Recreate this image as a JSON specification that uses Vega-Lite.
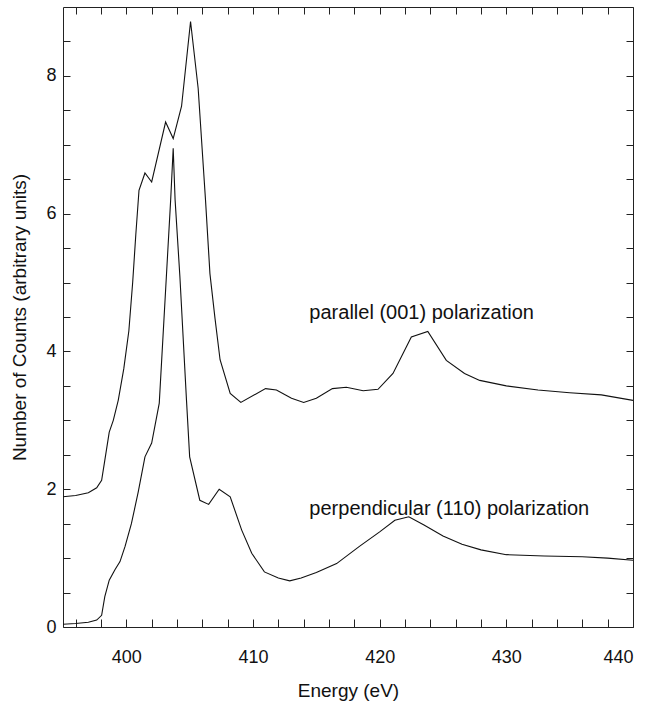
{
  "$schema": "https://vega.github.io/schema/vega-lite/v6.json",
  "width": 570,
  "height": 620,
  "autosize": {"type": "none"},
  "padding": {"left": 63, "top": 7, "right": 14, "bottom": 83},
  "background": "white",
  "config": {
    "font": "Liberation Sans",
    "view": {"stroke": null},
    "axis": {
      "grid": false,
      "domainColor": "#222222",
      "domainWidth": 1,
      "tickColor": "#222222",
      "tickWidth": 1,
      "labelColor": "#111111",
      "titleColor": "#111111",
      "labelFont": "Liberation Sans",
      "titleFont": "Liberation Sans",
      "labelFontSize": 18,
      "titleFontSize": 19,
      "titleFontWeight": "normal"
    }
  },
  "datasets": {
    "curves": [
      {"series": "parallel", "energy": 395, "counts": 1.89},
      {"series": "parallel", "energy": 396, "counts": 1.91},
      {"series": "parallel", "energy": 397, "counts": 1.95},
      {"series": "parallel", "energy": 397.66, "counts": 2.02},
      {"series": "parallel", "energy": 398.05, "counts": 2.13},
      {"series": "parallel", "energy": 398.3, "counts": 2.42},
      {"series": "parallel", "energy": 398.65, "counts": 2.83},
      {"series": "parallel", "energy": 398.97, "counts": 3.0},
      {"series": "parallel", "energy": 399.36, "counts": 3.29},
      {"series": "parallel", "energy": 399.8, "counts": 3.75},
      {"series": "parallel", "energy": 400.2, "counts": 4.3},
      {"series": "parallel", "energy": 400.5, "counts": 5.0},
      {"series": "parallel", "energy": 400.75, "counts": 5.7},
      {"series": "parallel", "energy": 401.0, "counts": 6.34},
      {"series": "parallel", "energy": 401.47, "counts": 6.59},
      {"series": "parallel", "energy": 402.0, "counts": 6.46},
      {"series": "parallel", "energy": 403.1, "counts": 7.33},
      {"series": "parallel", "energy": 403.7, "counts": 7.09},
      {"series": "parallel", "energy": 404.36, "counts": 7.56},
      {"series": "parallel", "energy": 405.07, "counts": 8.79},
      {"series": "parallel", "energy": 405.67, "counts": 7.82},
      {"series": "parallel", "energy": 406.25, "counts": 6.2},
      {"series": "parallel", "energy": 406.6, "counts": 5.13},
      {"series": "parallel", "energy": 407.0, "counts": 4.48},
      {"series": "parallel", "energy": 407.4, "counts": 3.88},
      {"series": "parallel", "energy": 408.2, "counts": 3.39},
      {"series": "parallel", "energy": 409.04, "counts": 3.26},
      {"series": "parallel", "energy": 410.99, "counts": 3.46},
      {"series": "parallel", "energy": 411.85, "counts": 3.44},
      {"series": "parallel", "energy": 413.04, "counts": 3.32},
      {"series": "parallel", "energy": 414.0, "counts": 3.26},
      {"series": "parallel", "energy": 415.0, "counts": 3.32},
      {"series": "parallel", "energy": 416.27, "counts": 3.46},
      {"series": "parallel", "energy": 417.37, "counts": 3.48},
      {"series": "parallel", "energy": 418.7, "counts": 3.43},
      {"series": "parallel", "energy": 419.87, "counts": 3.45},
      {"series": "parallel", "energy": 421.05, "counts": 3.68},
      {"series": "parallel", "energy": 422.5, "counts": 4.21},
      {"series": "parallel", "energy": 423.8, "counts": 4.29},
      {"series": "parallel", "energy": 425.26, "counts": 3.87},
      {"series": "parallel", "energy": 426.7, "counts": 3.68},
      {"series": "parallel", "energy": 427.9, "counts": 3.58},
      {"series": "parallel", "energy": 430, "counts": 3.5},
      {"series": "parallel", "energy": 432.5, "counts": 3.44},
      {"series": "parallel", "energy": 435, "counts": 3.4},
      {"series": "parallel", "energy": 437.5, "counts": 3.37},
      {"series": "parallel", "energy": 440, "counts": 3.29},
      {"series": "perpendicular", "energy": 395, "counts": 0.04},
      {"series": "perpendicular", "energy": 396, "counts": 0.05},
      {"series": "perpendicular", "energy": 397.0, "counts": 0.07},
      {"series": "perpendicular", "energy": 397.66, "counts": 0.1},
      {"series": "perpendicular", "energy": 398.05, "counts": 0.17},
      {"series": "perpendicular", "energy": 398.3, "counts": 0.44},
      {"series": "perpendicular", "energy": 398.65, "counts": 0.68},
      {"series": "perpendicular", "energy": 399.1, "counts": 0.83},
      {"series": "perpendicular", "energy": 399.5, "counts": 0.95},
      {"series": "perpendicular", "energy": 399.9, "counts": 1.17},
      {"series": "perpendicular", "energy": 400.4, "counts": 1.5},
      {"series": "perpendicular", "energy": 400.94, "counts": 1.96},
      {"series": "perpendicular", "energy": 401.47, "counts": 2.47},
      {"series": "perpendicular", "energy": 402.0, "counts": 2.67},
      {"series": "perpendicular", "energy": 402.6, "counts": 3.25},
      {"series": "perpendicular", "energy": 403.5, "counts": 6.2},
      {"series": "perpendicular", "energy": 403.7, "counts": 6.95},
      {"series": "perpendicular", "energy": 403.85, "counts": 6.2},
      {"series": "perpendicular", "energy": 404.23, "counts": 5.08},
      {"series": "perpendicular", "energy": 404.75, "counts": 3.29},
      {"series": "perpendicular", "energy": 405.0, "counts": 2.47},
      {"series": "perpendicular", "energy": 405.8, "counts": 1.84},
      {"series": "perpendicular", "energy": 406.5, "counts": 1.78},
      {"series": "perpendicular", "energy": 407.33, "counts": 2.0},
      {"series": "perpendicular", "energy": 408.2, "counts": 1.89},
      {"series": "perpendicular", "energy": 409.1, "counts": 1.41},
      {"series": "perpendicular", "energy": 409.9, "counts": 1.07},
      {"series": "perpendicular", "energy": 410.9, "counts": 0.8},
      {"series": "perpendicular", "energy": 412.0, "counts": 0.71},
      {"series": "perpendicular", "energy": 412.9, "counts": 0.67},
      {"series": "perpendicular", "energy": 413.8, "counts": 0.71},
      {"series": "perpendicular", "energy": 415.0, "counts": 0.79},
      {"series": "perpendicular", "energy": 416.6, "counts": 0.92},
      {"series": "perpendicular", "energy": 418.4, "counts": 1.17},
      {"series": "perpendicular", "energy": 420.0, "counts": 1.38},
      {"series": "perpendicular", "energy": 421.2, "counts": 1.55},
      {"series": "perpendicular", "energy": 422.3, "counts": 1.6},
      {"series": "perpendicular", "energy": 423.5, "counts": 1.48},
      {"series": "perpendicular", "energy": 425.0, "counts": 1.32},
      {"series": "perpendicular", "energy": 426.5, "counts": 1.2},
      {"series": "perpendicular", "energy": 428.0, "counts": 1.12},
      {"series": "perpendicular", "energy": 430.0, "counts": 1.05},
      {"series": "perpendicular", "energy": 433.0, "counts": 1.03},
      {"series": "perpendicular", "energy": 436.0, "counts": 1.02},
      {"series": "perpendicular", "energy": 438.0, "counts": 1.0},
      {"series": "perpendicular", "energy": 440.0, "counts": 0.97}
    ],
    "notes": [
      {"energy": 414.45, "counts": 4.56, "label": "parallel (001) polarization"},
      {"energy": 414.45, "counts": 1.71, "label": "perpendicular (110) polarization"}
    ]
  },
  "resolve": {"axis": {"x": "independent", "y": "independent"}},
  "layer": [
    {
      "data": {"name": "curves"},
      "mark": {"type": "line", "color": "#111111", "strokeWidth": 1.1, "clip": true},
      "encoding": {
        "x": {
          "field": "energy", "type": "quantitative",
          "scale": {"domain": [395, 440], "nice": false, "zero": false},
          "axis": {
            "orient": "bottom",
            "title": "Energy (eV)",
            "values": [396, 398, 400, 402, 404, 406, 408, 410, 412, 414, 416, 418, 420, 422, 424, 426, 428, 430, 432, 434, 436, 438, 440],
            "labelExpr": "datum.value % 10 === 0 ? '' + datum.value : ''",
            "tickSize": -8,
            "labelPadding": 29,
            "titlePadding": 15
          }
        },
        "y": {
          "field": "counts", "type": "quantitative",
          "scale": {"domain": [0, 9], "nice": false},
          "axis": {
            "orient": "left",
            "title": "Number of Counts (arbitrary units)",
            "values": [0, 0.5, 1, 1.5, 2, 2.5, 3, 3.5, 4, 4.5, 5, 5.5, 6, 6.5, 7, 7.5, 8, 8.5],
            "labelExpr": "datum.value % 2 === 0 ? '' + datum.value : ''",
            "tickSize": -7,
            "labelPadding": 14,
            "titlePadding": 16
          }
        },
        "detail": {"field": "series"}
      }
    },
    {
      "data": {"name": "notes"},
      "mark": {"type": "text", "align": "left", "baseline": "middle", "fontSize": 20, "font": "Liberation Sans", "color": "#111111"},
      "encoding": {
        "x": {
          "field": "energy", "type": "quantitative",
          "axis": {
            "orient": "top",
            "title": null,
            "labels": false,
            "values": [396, 398, 400, 402, 404, 406, 408, 410, 412, 414, 416, 418, 420, 422, 424, 426, 428, 430, 432, 434, 436, 438, 440],
            "tickSize": -7
          }
        },
        "y": {
          "field": "counts", "type": "quantitative",
          "axis": {
            "orient": "right",
            "title": null,
            "labels": false,
            "values": [0, 0.5, 1, 1.5, 2, 2.5, 3, 3.5, 4, 4.5, 5, 5.5, 6, 6.5, 7, 7.5, 8, 8.5],
            "tickSize": -7
          }
        },
        "text": {"field": "label"}
      }
    }
  ]
}
